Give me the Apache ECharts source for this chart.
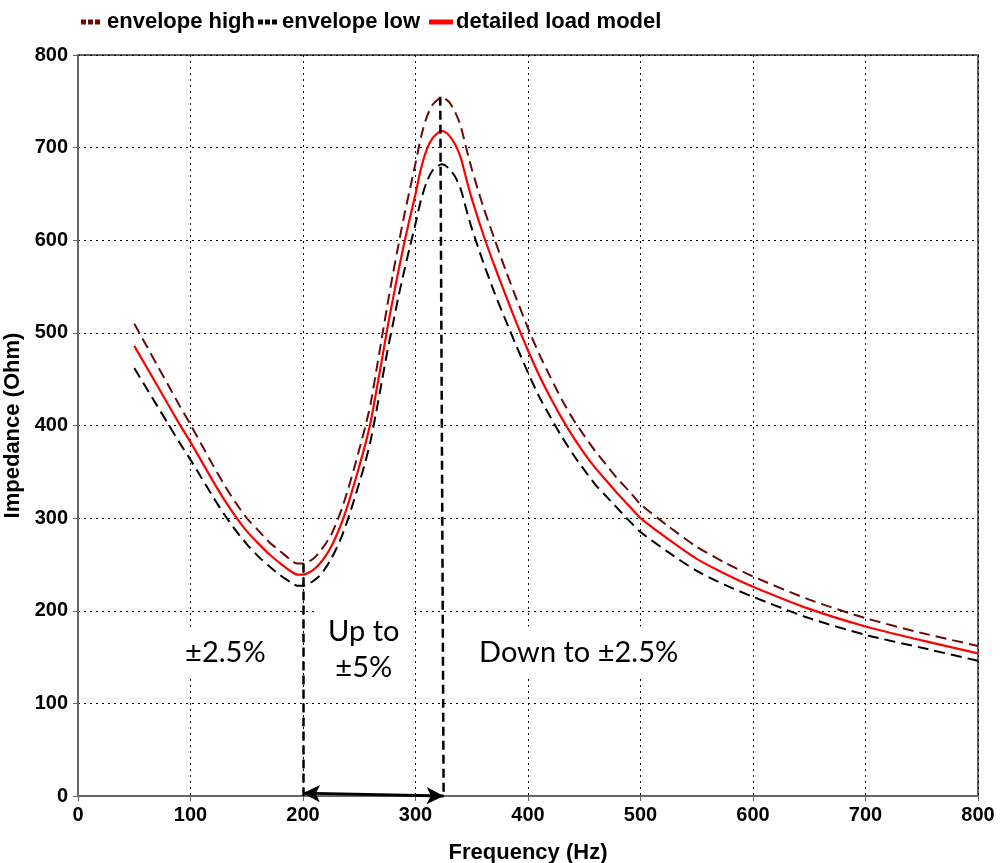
<!DOCTYPE html>
<html>
<head>
<meta charset="utf-8">
<script src="https://cdn.jsdelivr.net/npm/echarts@6/dist/echarts.min.js"></script>
<style>
html,body{margin:0;padding:0;background:#fff;}
#c{width:1000px;height:863px;}
</style>
</head>
<body>
<div id="c"></div>
<script>
// ---- data ----
const freq = [50,60,70,80,90,100,110,120,130,140,150,160,170,180,190,195,200,205,210,215,220,225,230,235,240,245,250,255,260,265,270,275,280,285,290,295,300,305,310,315,320,323,326,330,335,340,345,350,360,370,380,390,400,410,420,430,440,450,460,470,480,490,500,525,550,575,600,650,700,750,800];
const detailed = [486,465,444,423,402,382,361,340,320,302,286,273,261,251,242,239,239,241,245,251,259,269,282,297,315,335,356,378,403,436,470,505,537,568,597,624,650,678,698,710,716,718,717,713,704,690,667,645,607,573,541,510,481,454,430,408,388,370,354,340,326,313,300,277,256,240,226,202,183,168,154];
const envHigh = [510,488,466,444,422,401,379,357,336,317,300,287,274,264,254,251,251,253,257,264,272,282,296,312,331,352,374,397,423,458,494,530,564,596,627,655,683,712,733,746,752,754,753,749,739,724,700,677,637,602,568,536,505,477,452,428,407,389,372,357,342,329,315,291,269,252,237,212,192,176,162];
const envLow = [462,442,422,402,382,363,343,323,304,287,272,259,248,238,230,227,227,229,233,238,246,256,268,282,299,318,338,359,383,414,447,480,510,540,567,593,618,644,663,675,680,682,681,677,669,656,634,613,577,544,514,485,457,431,409,388,369,352,336,323,310,297,285,263,243,228,215,192,174,160,146];

const seriesNames = ['envelope high','envelope low','detailed load model'];
const xTicks = {min:0, max:800, step:100};
const yTicks = {min:0, max:800, step:100};

// band edges (Hz) of the tolerance regions and the heights where the markers start
const bandStart = [200, 251];      // [freq, impedance top]
const bandEnd   = [322, 755, 325]; // [freq top, impedance top, freq bottom]
const arrowSpan = [[200, 3],[325, 0]];

// annotation texts with anchor in data coordinates
const notes = [
  {text:'±2.5%', at:[131, 155]},
  {text:'Up to\n±5%', at:[254, 158]},
  {text:'Down to ±2.5%', at:[445, 155]}
];

const zip = (xs, ys) => xs.map((x, i) => [x, ys[i]]);

const chart = echarts.init(document.getElementById('c'), null, {renderer:'canvas'});

const boldFont = {fontFamily:'"Liberation Sans", Arial, sans-serif', fontWeight:'bold', color:'#000'};
const gridDots = {type:[2,4], color:'#000', width:1};
const dotsIcon = 'path://M0,0h5v5h-5z M7,0h5v5h-5z M14,0h5v5h-5z';

const option = {
  animation:false,
  backgroundColor:'#fff',
  grid:{left:78, right:22, top:55, bottom:67, show:true, borderColor:'#666', borderWidth:2,
        backgroundColor:'transparent', outerBoundsMode:'none', containLabel:false},
  legend:[
    {left:76, top:6, itemWidth:19, itemHeight:5, itemGap:0,
     data:[{name:seriesNames[0], icon:dotsIcon, itemStyle:{color:'#6b0a0a'}}],
     textStyle:Object.assign({fontSize:22, padding:[0,0,0,2]}, boldFont)},
    {left:253, top:6, itemWidth:19, itemHeight:5, itemGap:0,
     data:[{name:seriesNames[1], icon:dotsIcon, itemStyle:{color:'#000'}}],
     textStyle:Object.assign({fontSize:22, padding:[0,0,0,0]}, boldFont)},
    {left:424, top:6, itemWidth:24, itemHeight:5, itemGap:0,
     data:[{name:seriesNames[2], icon:'rect', itemStyle:{color:'#ff0000'}}],
     textStyle:Object.assign({fontSize:22, padding:[0,0,0,-2]}, boldFont)}
  ],
  xAxis:{
    type:'value', min:xTicks.min, max:xTicks.max, interval:xTicks.step,
    name:'Frequency (Hz)', nameLocation:'middle', nameGap:46,
    nameTextStyle:Object.assign({fontSize:22}, boldFont),
    axisLine:{show:true, lineStyle:{color:'#666', width:2}},
    axisTick:{show:true, length:5, lineStyle:{color:'#666', width:1}},
    axisLabel:Object.assign({fontSize:20, margin:9}, boldFont),
    splitLine:{show:true, lineStyle:gridDots}
  },
  yAxis:{
    type:'value', min:yTicks.min, max:yTicks.max, interval:yTicks.step,
    name:'Impedance (Ohm)', nameLocation:'middle', nameGap:46, nameRotate:90,
    nameTextStyle:Object.assign({fontSize:22}, boldFont),
    axisLine:{show:true, lineStyle:{color:'#666', width:2}},
    axisTick:{show:true, length:5, lineStyle:{color:'#666', width:1}},
    axisLabel:Object.assign({fontSize:20, margin:10}, boldFont),
    splitLine:{show:true, lineStyle:gridDots}
  },
  series:[
    {name:seriesNames[0], type:'line', data:zip(freq, envHigh), showSymbol:false, symbol:'none',
     smooth:0.25,
     lineStyle:{color:'#6b0a0a', width:2, type:[11,6]}, itemStyle:{color:'#6b0a0a'}, z:3},
    {name:seriesNames[1], type:'line', data:zip(freq, envLow), showSymbol:false, symbol:'none',
     smooth:0.25,
     lineStyle:{color:'#000', width:2, type:[11,6]}, itemStyle:{color:'#000'}, z:3},
    {name:seriesNames[2], type:'line', data:zip(freq, detailed), showSymbol:false, symbol:'none',
     smooth:0.25,
     lineStyle:{color:'#ff0000', width:2.2}, itemStyle:{color:'#ff0000'}, z:4},
    {name:'band edges', type:'line', data:[], z:5,
     markLine:{silent:true, symbol:['none','none'], label:{show:false},
       lineStyle:{color:'#000', width:2.5, type:[9,5]},
       data:[
         [{coord:[bandStart[0], bandStart[1]]},{coord:[bandStart[0], 0]}],
         [{coord:[bandEnd[0], bandEnd[1]]},{coord:[bandEnd[2], 0]}]
       ]}},
    {name:'band arrow', type:'line', data:[], z:6,
     markLine:{silent:true, symbol:['arrow','arrow'], symbolSize:[13,17], label:{show:false},
       lineStyle:{color:'#000', width:2.8, type:'solid'},
       data:[[{coord:arrowSpan[0]},{coord:arrowSpan[1]}]]}}
  ]
};
chart.setOption(option);

const graphics = notes.map(n => {
  const p = chart.convertToPixel({gridIndex:0}, n.at);
  return {
    type:'text', x:p[0], y:p[1], z:1, silent:true,
    style:{text:n.text, fontFamily:'Lato, "Open Sans", sans-serif', fontSize:29, lineHeight:36,
      fill:'#000', align:'center', verticalAlign:'middle',
      backgroundColor:'#fff', padding:[8,14]}
  };
});
chart.setOption({graphic:graphics});
</script>
</body>
</html>
